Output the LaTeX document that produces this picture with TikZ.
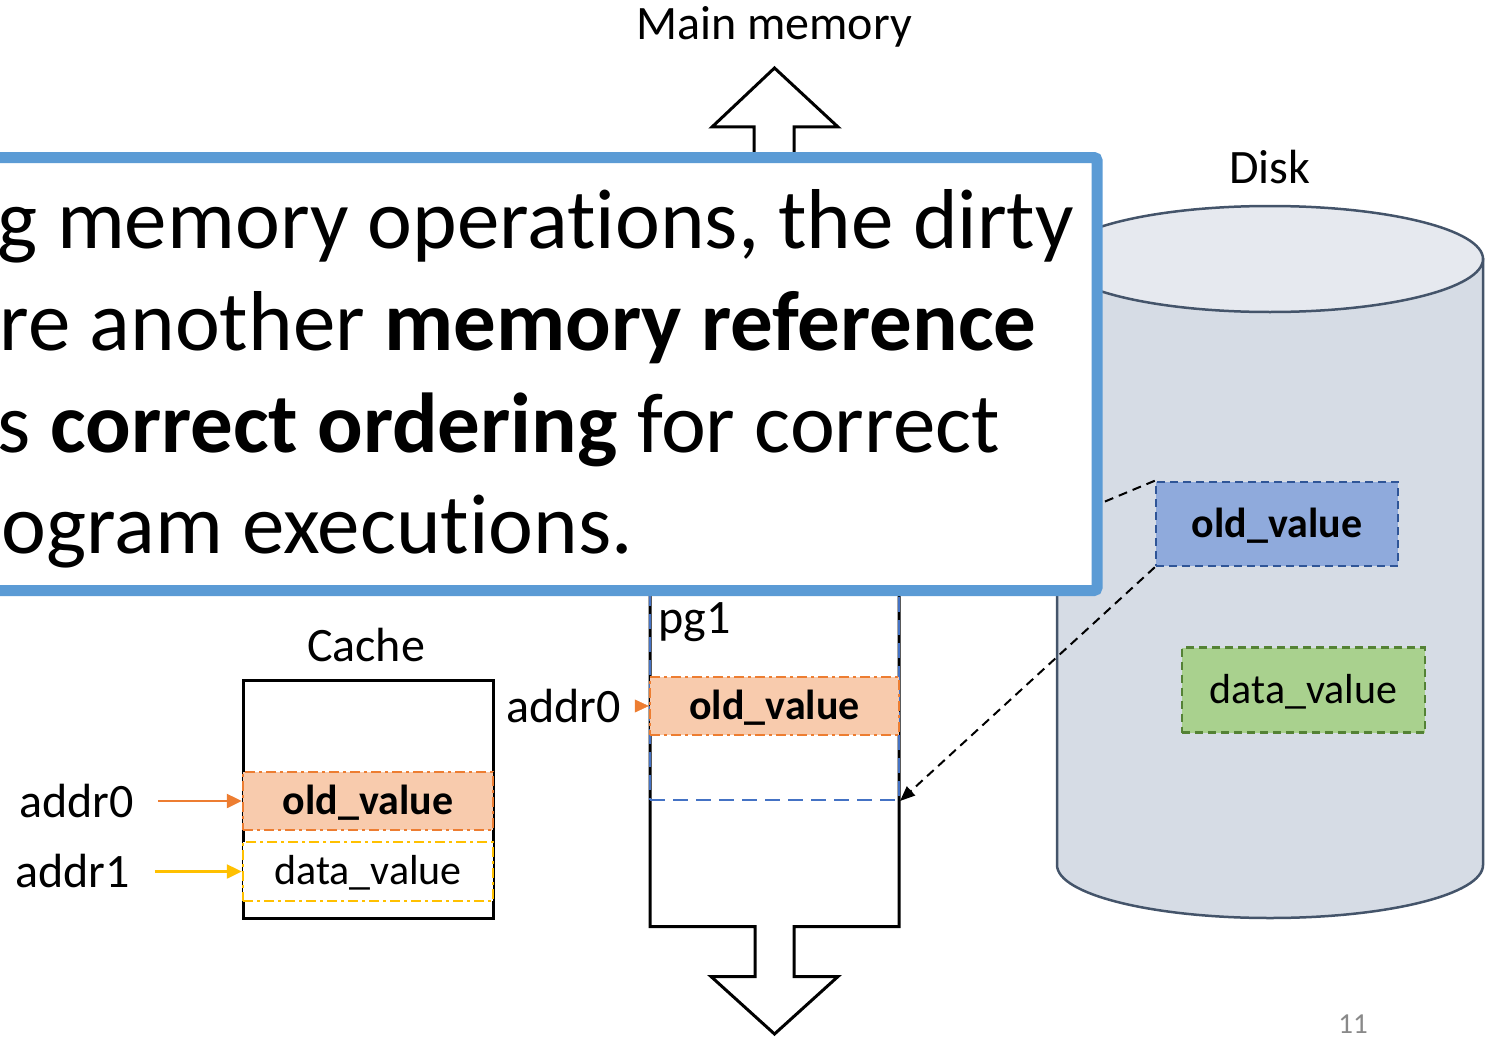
\documentclass[tikz,border=0pt]{standalone}
\usepackage{fontspec}
\setmainfont{Carlito}[Ligatures=CommonOff]
\usetikzlibrary{arrows.meta}
\definecolor{callout}{HTML}{5B9BD5}
\definecolor{orng}{HTML}{ED7D31}
\definecolor{orngfill}{HTML}{F8CBAD}
\definecolor{yell}{HTML}{FFC000}
\definecolor{pgblue}{HTML}{4472C4}
\definecolor{diskline}{HTML}{44546A}
\definecolor{disktop}{HTML}{E6E9EF}
\definecolor{diskbody}{HTML}{D6DCE5}
\definecolor{oldblue}{HTML}{8FAADC}
\definecolor{oldblueline}{HTML}{2F5597}
\definecolor{greenfill}{HTML}{A9D18E}
\definecolor{greenline}{HTML}{548235}
\definecolor{pagenum}{HTML}{898989}
\begin{document}
\begin{tikzpicture}[x=1pt,y=-1pt,
  lbl/.style={font=\fontsize{48}{58}\selectfont, inner sep=0pt, anchor=base},
  cell/.style={inner sep=0pt, font=\fontsize{42}{50}\selectfont, text height=36pt, text depth=10pt, line width=2.5pt, anchor=center},
  dashdot/.style={dash pattern=on 10pt off 4pt on 3pt off 4pt},
  bigtxt/.style={font=\fontsize{85}{102}\selectfont, inner sep=0pt, anchor=base east},
  conn/.style={black, line width=2pt, dash pattern=on 9pt off 6pt},
  outline/.style={black, line width=3pt}
]
\useasboundingbox (0,0) rectangle (1493,1038);

% Disk
\draw[diskline, fill=diskbody, line width=2.5pt] (1057,259) -- (1057,865)
  arc[start angle=180, end angle=360, x radius=213pt, y radius=53pt] -- (1483,259) -- cycle;
\draw[diskline, fill=disktop, line width=2.5pt] (1270,259) ellipse [x radius=213pt, y radius=53pt];
\node[lbl] (disklbl) at (1270,183) {Disk};
\node[cell, draw=oldblueline, fill=oldblue, dash pattern=on 8pt off 5pt, minimum width=242pt, minimum height=84pt] (dold) at (1277,524) {\textbf{old\_value}};
\node[cell, draw=greenline, fill=greenfill, dash pattern=on 8pt off 5pt, minimum width=243pt, minimum height=85pt] (ddata) at (1303.5,690) {data\_value};

% Main memory column with arrows
\draw[outline, fill=white, line join=miter]
  (650,300) -- (650,926.5) -- (755,926.5) -- (755,976.5) -- (711,976.5) -- (774.5,1034)
  -- (838,976.5) -- (794,976.5) -- (794,926.5) -- (899,926.5) -- (899,300) -- (794,300)
  -- (794,127) -- (838,127) -- (774.5,68) -- (712,127) -- (754,127) -- (754,300) -- cycle;
\node[lbl] (mainlbl) at (774,40) {Main memory};

% page pg1
\node[draw=pgblue, line width=2pt, dash pattern=on 15pt off 8pt, minimum width=249pt, minimum height=212pt, inner sep=0pt] (pg1) at (774.5,694) {};
\node[lbl, anchor=base west] (pglbl) at (658,633) {pg1};
\node[cell, draw=orng, fill=orngfill, dashdot, minimum width=249pt, minimum height=58pt] (pold) at (774.5,706) {\textbf{old\_value}};
\node[lbl, anchor=base east] (pga0) at (621,722) {addr0};
\draw[orng, line width=0.5pt, -{Triangle[length=14pt,width=13pt]}] (pold.west -| pga0.east) ++(14,0) -- (pold.west);

% Cache
\node[lbl] (cachelbl) at (366,661) {Cache};
\draw[outline] (243,680) rectangle (493,918);
\node[cell, draw=orng, fill=orngfill, dashdot, minimum width=250pt, minimum height=58pt] (cold) at (368,801) {\textbf{old\_value}};
\node[cell, draw=yell, fill=white, dashdot, minimum width=250pt, minimum height=59pt] (cdata) at (368,871.5) {data\_value};
\node[lbl, anchor=base west] (ca0) at (19,817) {addr0};
\node[lbl, anchor=base west] (ca1) at (15,887) {addr1};
\draw[orng, line width=2.5pt, -{Triangle[length=15pt,width=14pt]}] (cold.west -| ca0.east) ++(24,0) -- (cold.west);
\draw[yell, line width=2.5pt, -{Triangle[length=15pt,width=14pt]}] (cdata.west -| ca1.east) ++(25,0) -- (cdata.west);

% zoom connectors
\draw[conn, -{Triangle[length=15pt,width=12pt]}] (dold.south west) -- (pg1.south east);
\draw[conn] (dold.north west) -- (pg1.north east);

% callout
\draw[callout, line width=11pt, fill=white, rounded corners=3pt] (-30,157.5) rectangle (1097,590.5);
\node[bigtxt] (t1) at (1074,248) {g memory operations, the dirty};
\node[bigtxt] (t2) at (1037,350) {re another \textbf{memory reference}};
\node[bigtxt] (t3) at (1000,452) {s \textbf{correct ordering} for correct};
\node[bigtxt] (t4) at (633,553) {ogram executions.};

\node[font=\fontsize{29}{35}\selectfont, text=pagenum, inner sep=0pt, anchor=base] (pnum) at (1353,1033) {11};
\end{tikzpicture}
\end{document}
